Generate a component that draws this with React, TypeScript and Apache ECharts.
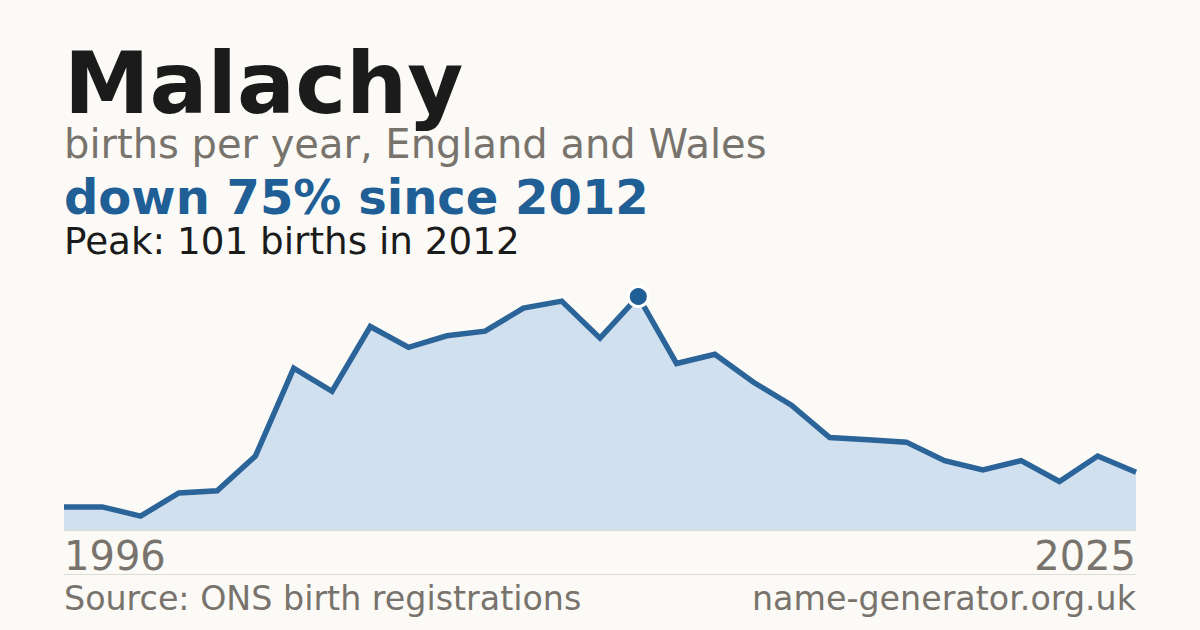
import React, { useEffect, useRef } from "react";
import * as echarts from "echarts";

const years = [
  "1996", "1997", "1998", "1999", "2000", "2001", "2002", "2003", "2004", "2005",
  "2006", "2007", "2008", "2009", "2011", "2012", "2013", "2014", "2015", "2016",
  "2017", "2018", "2019", "2020", "2021", "2022", "2023", "2024", "2025",
];
const births = [
  10, 10, 6, 16, 17, 32, 70, 60, 88, 79,
  84, 86, 96, 99, 83, 101, 72, 76, 64, 54,
  40, 39, 38, 30, 26, 30, 21, 32, 25,
];
const titleText = "Malachy";
const subtitleText = "births per year, England and Wales";
const headlineText = "down 75% since 2012";
const peakText = "Peak: 101 births in 2012";
const sourceText = "Source: ONS birth registrations";
const siteText = "name-generator.org.uk";

const FONT = "'DejaVu Sans', 'Noto Sans', sans-serif";
const BLUE = "#1f5f96";
const GRAY = "#78746d";
const DARK = "#1b1b1b";
const BG = "#fbfaf6";

export default function App() {
  const ref = useRef<HTMLDivElement>(null);
  useEffect(() => {
    if (!ref.current) return;
    const chart = echarts.init(ref.current, undefined, { renderer: "svg" });
    const peakVal = Math.max(...births);
    const peakIdx = births.indexOf(peakVal);
    const lastIdx = years.length - 1;
    const data = births.map((v, i) =>
      i === peakIdx
        ? {
            value: v,
            symbol: "circle",
            symbolSize: 20,
            itemStyle: { color: BLUE, borderColor: "#ffffff", borderWidth: 3 },
          }
        : { value: v, symbol: "none" }
    );
    chart.setOption({
      animation: false,
      backgroundColor: BG,
      grid: { left: 64, right: 64, top: 296.5, bottom: 100 },
      xAxis: {
        type: "category",
        data: years,
        boundaryGap: false,
        axisLine: { show: true, lineStyle: { color: "#dedbd4", width: 1 } },
        axisTick: { show: false },
        splitLine: { show: false },
        axisLabel: {
          show: true,
          interval: (i: number) => i === 0 || i === lastIdx,
          margin: 6,
          fontSize: 40,
          fontFamily: FONT,
          color: GRAY,
          alignMinLabel: "left",
          alignMaxLabel: "right",
        },
      },
      yAxis: {
        type: "value",
        min: 0,
        max: peakVal,
        show: false,
        splitLine: { show: false },
      },
      series: [
        {
          type: "line",
          data,
          symbol: "none",
          showAllSymbol: true,
          lineStyle: { color: "#2b6499", width: 5.5, join: "miter" },
          areaStyle: { color: "#d0e0ef", opacity: 1 },
          z: 3,
        },
      ],
      graphic: [
        {
          type: "text",
          x: 64,
          y: 83,
          style: {
            text: titleText,
            font: `bold 86px ${FONT}`,
            fill: DARK,
            verticalAlign: "middle",
            lineHeight: 76,
          },
        },
        {
          type: "text",
          x: 64,
          y: 144.4,
          style: {
            text: subtitleText,
            font: `40px ${FONT}`,
            fill: GRAY,
            verticalAlign: "middle",
            lineHeight: 36,
          },
        },
        {
          type: "text",
          x: 64,
          y: 196.7,
          style: {
            text: headlineText,
            font: `bold 48px ${FONT}`,
            fill: BLUE,
            verticalAlign: "middle",
            lineHeight: 42,
          },
        },
        {
          type: "text",
          x: 64,
          y: 241,
          style: {
            text: peakText,
            font: `37.3px ${FONT}`,
            fill: DARK,
            verticalAlign: "middle",
            lineHeight: 34,
          },
        },
        {
          type: "line",
          shape: { x1: 64, y1: 574.5, x2: 1136, y2: 574.5 },
          style: { stroke: "#dedbd4", lineWidth: 1 },
        },
        {
          type: "text",
          x: 64,
          y: 598.6,
          style: {
            text: sourceText,
            font: `33.3px ${FONT}`,
            fill: GRAY,
            verticalAlign: "middle",
            lineHeight: 32,
          },
        },
        {
          type: "text",
          x: 1136,
          y: 598.6,
          style: {
            text: siteText,
            font: `33.3px ${FONT}`,
            fill: GRAY,
            verticalAlign: "middle",
            align: "right",
            lineHeight: 32,
          },
        },
      ],
    });
    return () => chart.dispose();
  }, []);
  return (
    <div
      ref={ref}
      style={{ position: "fixed", left: 0, top: 0, width: 1200, height: 630 }}
    />
  );
}
